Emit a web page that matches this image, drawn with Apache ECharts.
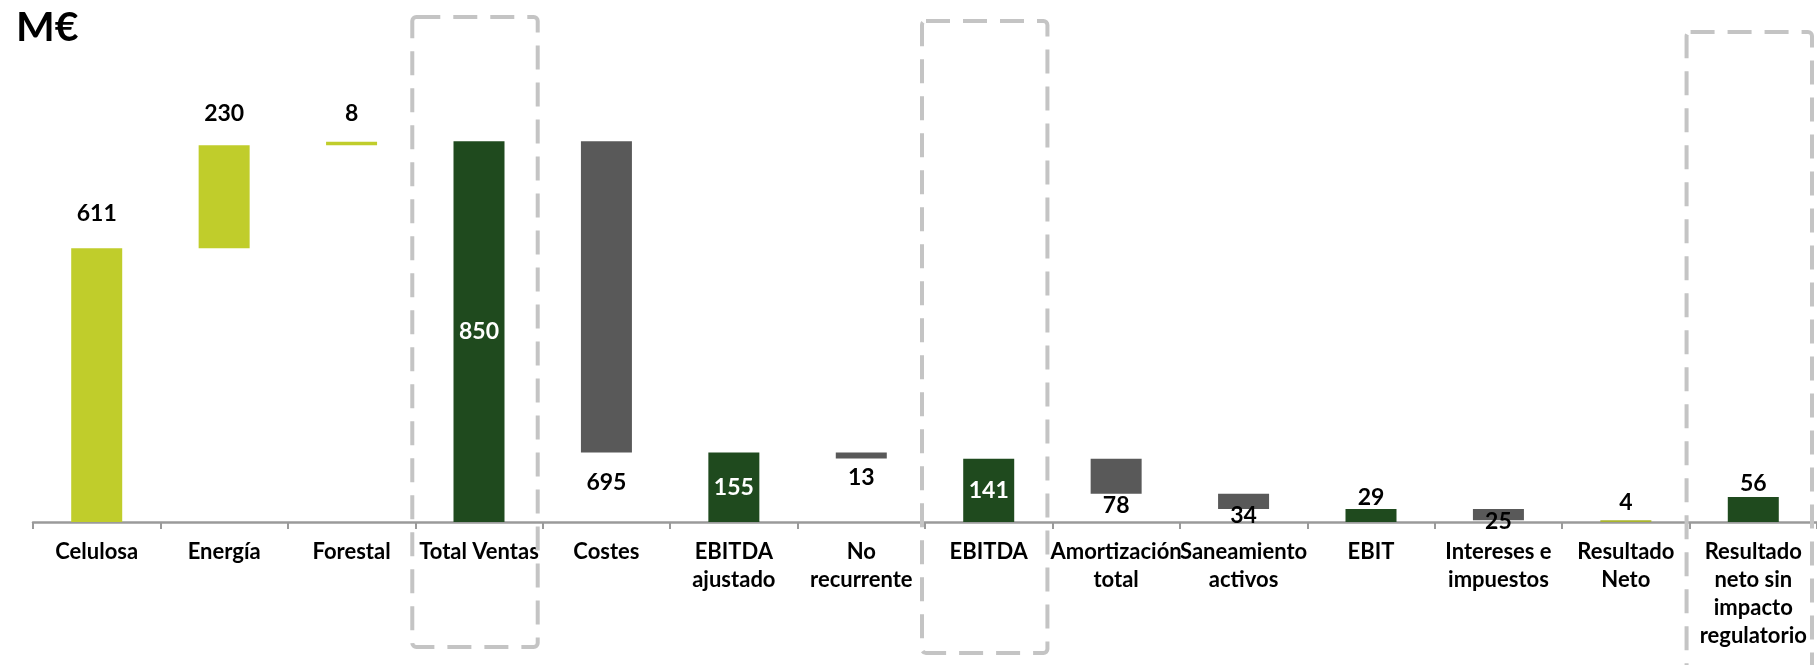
<!DOCTYPE html>
<html>
<head>
<meta charset="utf-8">
<script src="https://cdn.jsdelivr.net/npm/echarts@6/dist/echarts.min.js"></script>
<style>
  html, body { margin: 0; padding: 0; background: #ffffff; }
  #chart { width: 1817px; height: 665px; }
</style>
</head>
<body>
<div id="chart"></div>
<script>
// Cuenta de resultados en cascada (M€)
const categories = [
  'Celulosa', 'Energía', 'Forestal', 'Total Ventas', 'Costes',
  'EBITDA\najustado', 'No\nrecurrente', 'EBITDA', 'Amortización\ntotal',
  'Saneamiento\nactivos', 'EBIT', 'Intereses e\nimpuestos', 'Resultado\nNeto',
  'Resultado\nneto sin\nimpacto\nregulatorio'
];
// Variaciones (positivas / negativas) y totales
const values = [611, 230, 8, 850, -695, 155, -13, 141, -78, -34, 29, -25, 4, 56];
// 'inc' = aportación, 'dec' = minoración, 'total' = subtotal desde cero
const kinds = ['inc', 'inc', 'inc', 'total', 'dec', 'total', 'dec', 'total', 'dec', 'dec', 'total', 'dec', 'inc0', 'total'];
// Categorías resaltadas con recuadro discontinuo
const framed = ['Total Ventas', 'EBITDA', 'Resultado\nneto sin\nimpacto\nregulatorio'];

const COLORS = { inc: '#C0CD2B', inc0: '#A9B52C', dec: '#595959', total: '#1F4A1E' };

// Colocación de las etiquetas de valor
const labelPos = ['top', 'top', 'top', 'inside', 'bottom', 'inside', 'bottom', 'inside', 'bottom', 'bottom', 'top', 'bottom', 'top', 'top'];
const labelGap = [23, 20, 17, 0, 19, 0, 8, 0, 0, -5, 0, -10, 6, 2];

// Base invisible + tramo visible para cada barra
const base = [];
const visible = [];
let running = 0;
values.forEach((v, i) => {
  const k = kinds[i];
  if (k === 'total' || k === 'inc0') {
    base.push(0);
    visible.push(v);
    running = v;
  } else if (v >= 0) {
    base.push(running);
    visible.push(v);
    running += v;
  } else {
    running += v;
    base.push(running);
    visible.push(-v);
  }
});

const chart = echarts.init(document.getElementById('chart'), null, { renderer: 'canvas' });
const FONT = 'Lato, Carlito, "Open Sans", sans-serif';

chart.setOption({
  animation: false,
  backgroundColor: '#ffffff',
  title: {
    text: 'M€',
    left: 11,
    top: 2,
    textStyle: { fontFamily: FONT, fontSize: 41, fontWeight: 'bold', color: '#000' }
  },
  grid: { left: 33, right: -2, top: 74, bottom: 143, containLabel: false },
  xAxis: {
    type: 'category',
    data: categories,
    boundaryGap: true,
    axisLine: { lineStyle: { color: '#9A9A9A', width: 2.5 } },
    axisTick: { show: true, interval: 0, length: 7, lineStyle: { color: '#9A9A9A', width: 2 } },
    axisLabel: {
      interval: 0,
      margin: 16,
      fontFamily: FONT,
      fontSize: 22,
      fontWeight: 'bold',
      color: '#000',
      lineHeight: 28
    }
  },
  yAxis: {
    type: 'value',
    min: 0,
    max: 1000,
    show: false,
    splitLine: { show: false }
  },
  series: [
    {
      type: 'bar',
      stack: 'cascada',
      barWidth: 51,
      silent: true,
      itemStyle: { color: 'transparent' },
      data: base
    },
    {
      type: 'bar',
      stack: 'cascada',
      barWidth: 51,
      data: visible.map((v, i) => ({
        value: v,
        itemStyle: { color: COLORS[kinds[i]] },
        label: {
          show: true,
          position: labelPos[i],
          distance: labelGap[i],
          color: labelPos[i] === 'inside' ? '#ffffff' : '#000000',
          formatter: () => String(Math.abs(values[i]))
        }
      })),
      label: {
        fontFamily: FONT,
        fontSize: 23,
        fontWeight: 'bold'
      }
    }
  ]
});

// Recuadros discontinuos alrededor de los subtotales destacados
function drawFrames() {
  const step = chart.convertToPixel({ xAxisIndex: 0 }, categories[1]) -
               chart.convertToPixel({ xAxisIndex: 0 }, categories[0]);
  const tops = [17, 21, 32];
  const bottoms = [647, 653, 720];
  const elements = framed.map((name, j) => {
    const cx = chart.convertToPixel({ xAxisIndex: 0 }, name) - 4;
    const half = step / 2 - 1;
    return {
      type: 'rect',
      z: 50,
      silent: true,
      shape: { x: cx - half, y: tops[j], width: half * 2, height: bottoms[j] - tops[j], r: 4 },
      style: { fill: 'none', stroke: '#C4C4C4', lineWidth: 4, lineDash: [24, 13] }
    };
  });
  chart.setOption({ graphic: { elements } });
}
drawFrames();
</script>
</body>
</html>
